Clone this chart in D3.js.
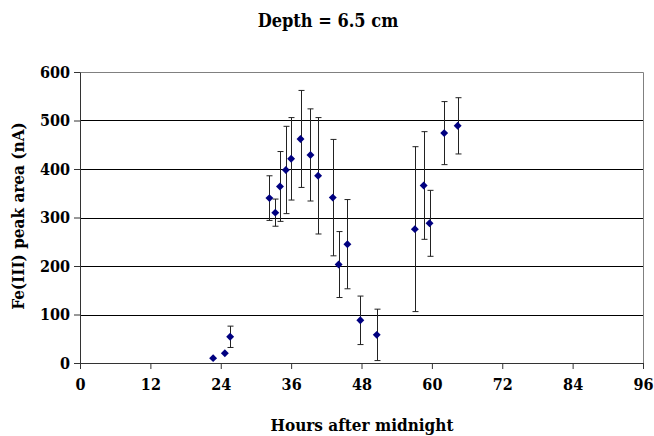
<!DOCTYPE html>
<html>
<head>
<meta charset="utf-8">
<script src="https://cdn.jsdelivr.net/npm/d3@7"></script>
<style>
  body { margin: 0; background: #fff; }
  svg text { font-family: "DejaVu Serif Condensed", "DejaVu Serif", "Liberation Serif", serif; font-stretch: condensed; }
</style>
</head>
<body>
<div id="chart"></div>
<script>
var width = 654;
var height = 436;

// hours after midnight, Fe(III) peak area (nA), error bar half-length
var hours = [22.7, 24.7, 25.6, 32.3, 33.3, 34.1, 35.1, 36.0, 37.6, 39.3, 40.6,
             43.1, 44.1, 45.6, 47.8, 50.6, 57.1, 58.6, 59.6, 62.1, 64.4];
var peak = [10, 20, 54, 340, 310, 364, 398, 421, 462, 429, 386,
            341, 203, 245, 88, 58, 276, 366, 288, 474, 489];
var errs = [0, 0, 22, 46, 28, 72, 90, 85, 100, 95, 120,
            120, 68, 92, 50, 53, 170, 111, 68, 65, 58];
var xTicks = [0, 12, 24, 36, 48, 60, 72, 84, 96];
var yTicks = [0, 100, 200, 300, 400, 500, 600];

var margin = {left: 80, top: 72, right: 11, bottom: 73};

var svg = d3.select("#chart")
            .append("svg")
            .attr("width", width)
            .attr("height", height);

var xScale = d3.scaleLinear()
               .domain([0, 96])
               .range([margin.left, width - margin.right]);
var yScale = d3.scaleLinear()
               .domain([0, 600])
               .range([height - margin.bottom, margin.top]);

// gridlines
svg.append("g")
   .selectAll("line")
   .data(yTicks.filter(function(d){ return d > 0 && d < 600; }))
   .enter()
   .append("line")
   .attr("x1", xScale(0))
   .attr("x2", xScale(96))
   .attr("y1", function(d){ return Math.round(yScale(d)) + 0.5; })
   .attr("y2", function(d){ return Math.round(yScale(d)) + 0.5; })
   .attr("stroke", "#000")
   .attr("stroke-width", 1);

// plot frame (top / right)
svg.append("path")
   .attr("d", "M" + xScale(0) + "," + (Math.round(yScale(600)) + 0.5) +
              "H" + (Math.round(xScale(96)) + 0.5) + "V" + yScale(0))
   .attr("fill", "none")
   .attr("stroke", "#808080");

var xAxis = d3.axisBottom(xScale)
              .tickValues(xTicks)
              .tickSize(6)
              .tickSizeOuter(0);
var yAxis = d3.axisLeft(yScale)
              .tickValues(yTicks)
              .tickSize(6)
              .tickSizeOuter(0);

var gx = svg.append("g")
   .attr("transform", "translate(0," + Math.round(yScale(0)) + ")")
   .call(xAxis);
var gy = svg.append("g")
   .attr("transform", "translate(" + Math.round(xScale(0)) + ",0)")
   .call(yAxis);

[gx, gy].forEach(function(g){
  g.attr("font-family", null);
  g.selectAll("path, line").attr("stroke", "#333");
  g.selectAll("text")
   .attr("fill", "#000")
   .style("font-size", "16px")
   .style("font-weight", "bold");
});
gx.selectAll("text").attr("dy", "1.1em");
gy.selectAll("text").attr("x", -10);

// error bars
var bars = svg.append("g");
hours.forEach(function(h, i){
  if (errs[i] <= 0) return;
  var x = Math.round(xScale(h)) + 0.5;
  var y1 = yScale(peak[i] + errs[i]);
  var y2 = yScale(peak[i] - errs[i]);
  bars.append("line").attr("x1", x).attr("x2", x).attr("y1", y1).attr("y2", y2)
      .attr("stroke", "#222");
  bars.append("line").attr("x1", x - 3).attr("x2", x + 3).attr("y1", y1).attr("y2", y1)
      .attr("stroke", "#222");
  bars.append("line").attr("x1", x - 3).attr("x2", x + 3).attr("y1", y2).attr("y2", y2)
      .attr("stroke", "#222");
});

// diamond markers
var diamond = d3.symbol().type(d3.symbolDiamond2).size(40);
svg.append("g")
   .selectAll("path")
   .data(hours)
   .enter()
   .append("path")
   .attr("d", diamond)
   .attr("transform", function(d, i){
     return "translate(" + xScale(d) + "," + yScale(peak[i]) + ")";
   })
   .attr("fill", "#000080");

// title and axis labels
svg.append("text")
   .attr("x", 328)
   .attr("y", 27)
   .attr("text-anchor", "middle")
   .style("font-size", "18px")
   .style("font-weight", "bold")
   .text("Depth = 6.5 cm");

svg.append("text")
   .attr("x", 362)
   .attr("y", 431)
   .attr("text-anchor", "middle")
   .style("font-size", "17px")
   .style("font-weight", "bold")
   .text("Hours after midnight");

svg.append("text")
   .attr("transform", "translate(24," + 216 + ") rotate(-90)")
   .attr("text-anchor", "middle")
   .style("font-size", "17px")
   .style("font-weight", "bold")
   .text("Fe(III) peak area (nA)");
</script>
</body>
</html>
